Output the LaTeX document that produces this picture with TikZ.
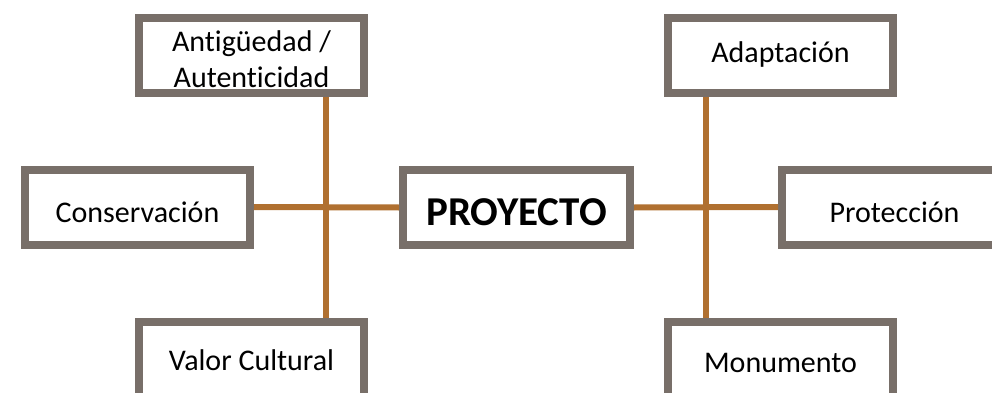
\documentclass[tikz,border=0pt]{standalone}
\usepackage{fontspec}
\setmainfont{Carlito}[Ligatures=NoCommon]
\usetikzlibrary{positioning}

\definecolor{boxgrey}{RGB}{120,111,105}
\definecolor{linkbrown}{RGB}{176,112,48}

\begin{document}
\begin{tikzpicture}[x=1pt, y=-1pt,
  box/.style={rectangle, draw=boxgrey, line width=8pt, fill=white,
    minimum width=225pt, minimum height=75pt, align=center,
    text depth=0pt, font=\fontsize{30}{36}\selectfont},
  link/.style={draw=linkbrown, line width=6pt}]

  \fill[white] (0,0) rectangle (992,393);
  \clip (0,0) rectangle (992,393);

  % centre
  \node[box, minimum width=227pt, text height=35pt, font=\fontsize{41}{45}\selectfont\bfseries] (proy) at (516.5,207.5) {PROYECTO};

  % left side
  \node[box, text height=64pt] (ant) at (251.5,55.5) {Antigüedad /\\Autenticidad};
  \node[box, text height=31pt] (cons) at (137.5,207) {Conservación};
  \node[box, text height=21pt] (val) at (251.5,359.5) {Valor Cultural};

  % right side
  \node[box, text height=15pt] (adap) at (780.5,55.5) {Adaptación};
  \node[box, text height=31pt] (prot) at (894.5,207) {Protección};
  \node[box, text height=25pt] (mon) at (780.5,359.5) {Monumento};

  \coordinate (lx) at (326,207);
  \coordinate (rx) at (706,207);

  \draw[link] (cons.east) -- (proy.west);
  \draw[link] (ant.south -| lx) -- (val.north -| lx);
  \draw[link] (proy.east) -- (prot.west);
  \draw[link] (adap.south -| rx) -- (mon.north -| rx);
\end{tikzpicture}
\end{document}
